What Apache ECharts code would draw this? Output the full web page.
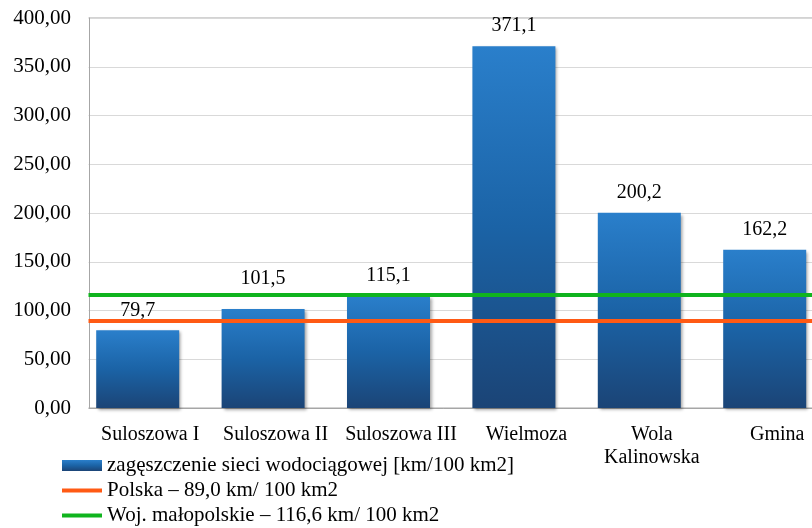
<!DOCTYPE html>
<html>
<head>
<meta charset="utf-8">
<script src="https://cdn.jsdelivr.net/npm/echarts@6/dist/echarts.min.js"></script>
<style>html,body{margin:0;padding:0;background:#fff}#c{width:812px;height:528px}</style>
</head>
<body>
<div id="c"></div>
<script>
const categories = ['Suloszowa I', 'Suloszowa II', 'Suloszowa III', 'Wielmoza', 'Wola\nKalinowska', 'Gmina'];
const density = [79.7, 101.5, 115.1, 371.1, 200.2, 162.2];
const polskaValue = 89.0;
const malopolskaValue = 116.6;
const seriesNames = [
  'zagęszczenie sieci wodociągowej [km/100 km2]',
  'Polska – 89,0 km/ 100 km2',
  'Woj. małopolskie – 116,6 km/ 100 km2'
];
const yTicks = {min: 0, max: 400, interval: 50};

const FONT = '"Liberation Serif", "Times New Roman", serif';
const LINE_ICON = 'path://M0,0 L40,0 L40,4 L0,4 Z';
const chart = echarts.init(document.getElementById('c'));
chart.setOption({
  animation: false,
  textStyle: {fontFamily: FONT},
  grid: {left: 75, top: 18, width: 752.4, height: 390, containLabel: false, outerBoundsMode: 'none',
         show: true, borderColor: '#a6a6a6', borderWidth: 1, backgroundColor: 'transparent'},
  xAxis: {
    type: 'category', data: categories,
    axisLine: {show: true, lineStyle: {color: '#a6a6a6'}},
    axisTick: {show: false},
    axisLabel: {color: '#000', fontFamily: FONT, fontSize: 20, lineHeight: 23, margin: 15, interval: 0,
      padding: [0, 0, 0, 25]}
  },
  yAxis: {
    type: 'value', min: yTicks.min, max: yTicks.max, interval: yTicks.interval,
    offset: -14,
    axisLine: {show: true, lineStyle: {color: '#a6a6a6'}},
    axisTick: {show: false},
    splitLine: {show: true, lineStyle: {color: '#d9d9d9'}},
    axisLabel: {color: '#000', fontFamily: FONT, fontSize: 21, margin: 18,
      formatter: v => v.toFixed(2).replace('.', ',')}
  },
  legend: {
    orient: 'vertical', left: 62, top: 455, padding: 0,
    itemWidth: 40, itemHeight: 11, itemGap: 4,
    textStyle: {color: '#000', fontFamily: FONT, fontSize: 21, lineHeight: 21},
    data: [
      {name: seriesNames[0], icon: 'rect'},
      {name: seriesNames[1], icon: LINE_ICON},
      {name: seriesNames[2], icon: LINE_ICON}
    ]
  },
  series: [
    {
      name: seriesNames[0], type: 'bar', barWidth: 83,
      data: density.map((v, i) => i === 1 ? {value: v, label: {distance: 20}} : v),
      itemStyle: {
        color: new echarts.graphic.LinearGradient(0, 0, 0, 1, [
          {offset: 0, color: '#2a7fcb'},
          {offset: 0.5, color: '#1b63a6'},
          {offset: 1, color: '#1b4476'}
        ]),
        shadowBlur: 3, shadowColor: 'rgba(0,0,0,0.35)', shadowOffsetX: 2, shadowOffsetY: 2
      },
      label: {show: true, position: 'top', distance: 10, color: '#000', fontFamily: FONT, fontSize: 20,
        formatter: p => p.value.toFixed(1).replace('.', ',')}
    },
    {
      name: seriesNames[1], type: 'line', data: [], symbol: 'none',
      lineStyle: {color: '#ff5a14', width: 4}, itemStyle: {color: '#ff5a14'},
      markLine: {silent: true, symbol: 'none', label: {show: false},
        lineStyle: {color: '#ff5a14', width: 4, type: 'solid'},
        data: [{yAxis: polskaValue}]}, z: 5
    },
    {
      name: seriesNames[2], type: 'line', data: [], symbol: 'none',
      lineStyle: {color: '#10b41e', width: 4}, itemStyle: {color: '#10b41e'},
      markLine: {silent: true, symbol: 'none', label: {show: false},
        lineStyle: {color: '#10b41e', width: 4, type: 'solid'},
        data: [{yAxis: malopolskaValue}]}, z: 5
    }
  ],
  graphic: [{type: 'rect', z: 100, shape: {x: 73, y: 15, width: 15.5, height: 396}, style: {fill: '#fff'}}]
});
</script>
</body>
</html>
